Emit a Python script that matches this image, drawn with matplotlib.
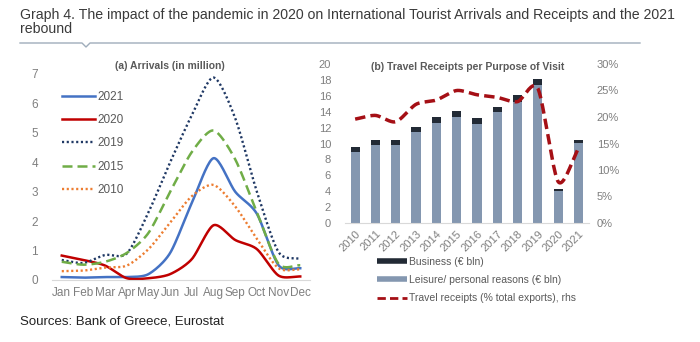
import numpy as np
import matplotlib
matplotlib.use("Agg")
import matplotlib.pyplot as plt
from matplotlib.lines import Line2D

plt.rcParams['font.family'] = ['Liberation Sans', 'DejaVu Sans']

# ---------------- data ----------------
months = ["Jan", "Feb", "Mar", "Apr", "May", "Jun", "Jul", "Aug", "Sep", "Oct", "Nov", "Dec"]
arr_2021 = [0.10, 0.08, 0.10, 0.10, 0.20, 0.92, 2.62, 4.14, 3.00, 2.25, 0.50, 0.40]
arr_2020 = [0.83, 0.68, 0.49, 0.06, 0.06, 0.20, 0.71, 1.86, 1.36, 1.05, 0.15, 0.12]
arr_2019 = [0.68, 0.58, 0.85, 0.90, 2.30, 4.00, 5.60, 6.88, 5.50, 3.00, 0.95, 0.72]
arr_2015 = [0.62, 0.52, 0.62, 0.92, 1.60, 3.00, 4.35, 5.08, 4.10, 2.30, 0.55, 0.50]
arr_2010 = [0.30, 0.32, 0.42, 0.49, 1.05, 1.95, 2.85, 3.23, 2.50, 1.40, 0.40, 0.36]

years = ["2010", "2011", "2012", "2013", "2014", "2015", "2016", "2017", "2018", "2019", "2020", "2021"]
leisure = [8.87, 9.75, 9.83, 11.46, 12.64, 13.35, 12.47, 13.90, 15.27, 17.36, 3.97, 10.04]
business = [0.67, 0.71, 0.55, 0.67, 0.71, 0.75, 0.71, 0.70, 0.80, 0.74, 0.30, 0.42]
receipts_pct = [19.6, 20.3, 19.1, 22.4, 23.2, 25.0, 24.2, 23.7, 22.9, 25.4, 7.8, 14.1]


def smooth(y, n=20, tension=0.8):
    """Cardinal spline through the given points (rendering only)."""
    y = np.asarray(y, float)
    x = np.arange(len(y), dtype=float)
    P = np.column_stack([x, y])
    P = np.vstack([P[0] - (P[1] - P[0]), P, P[-1] + (P[-1] - P[-2])])
    out = []
    t = np.linspace(0, 1, n, endpoint=False)[:, None]
    h00 = 2 * t ** 3 - 3 * t ** 2 + 1
    h10 = t ** 3 - 2 * t ** 2 + t
    h01 = -2 * t ** 3 + 3 * t ** 2
    h11 = t ** 3 - t ** 2
    for i in range(1, len(P) - 2):
        p0, p1, p2, p3 = P[i - 1], P[i], P[i + 1], P[i + 2]
        m1 = tension * 0.5 * (p2 - p0)
        m2 = tension * 0.5 * (p3 - p1)
        out.append(h00 * p1 + h10 * m1 + h01 * p2 + h11 * m2)
    out.append(P[-2][None, :])
    c = np.vstack(out)
    return c[:, 0], c[:, 1]


W, H = 700, 342
fig = plt.figure(figsize=(7, 3.42), dpi=100)

def fx(px):
    return px / W

def fy(py):
    return 1 - py / H

grey = "#595959"
tickgrey = "#7f7f7f"
tsize = 10.2

# title
fig.text(fx(20), fy(19), "Graph 4. The impact of the pandemic in 2020 on International Tourist Arrivals and Receipts and the 2021",
         ha="left", va="baseline", fontsize=tsize, color="#3a3a3a")
fig.text(fx(20), fy(33), "rebound",
         ha="left", va="baseline", fontsize=tsize, color="#3a3a3a")
# line with notch
lc = "#9fadbb"
fig.add_artist(Line2D([fx(20), fx(82), fx(86), fx(90), fx(640)],
                      [fy(43), fy(43), fy(47), fy(43), fy(43)], color=lc, lw=1.0))

fig.text(fx(20), fy(321), "Sources: Bank of Greece, Eurostat", ha="left", va="center",
         fontsize=9.5, color="#222222")

# ---------------- left panel ----------------
ax1 = fig.add_axes([fx(52), fy(280), fx(258), (280 - 74) / H])
x = np.arange(len(months))
dot = (0, (0.9, 1.1))
styles = [
    (arr_2021, "2021", "#4472C4", "-", 1.8),
    (arr_2020, "2020", "#C00000", "-", 1.8),
    (arr_2019, "2019", "#1F3864", dot, 1.7),
    (arr_2015, "2015", "#70AD47", (0, (4, 2)), 1.8),
    (arr_2010, "2010", "#ED7D31", dot, 1.7),
]
for vals, lab, col, ls, lw in styles:
    sx, sy = smooth(vals)
    ax1.plot(sx, sy, color=col, ls=ls, lw=lw, label=lab)
ax1.set_xlim(-0.45, 11.45)
ax1.set_ylim(0, 7)
ax1.set_xticks(x)
ax1.set_xticklabels(months)
ax1.set_yticks(range(0, 8))
for s in ["top", "right", "left"]:
    ax1.spines[s].set_visible(False)
ax1.spines["bottom"].set_color("#d9d9d9")
ax1.tick_params(axis="both", length=0, colors=tickgrey, labelsize=8.5)
ax1.tick_params(axis="y", pad=10)
ax1.tick_params(axis="x", pad=5)
leg1 = ax1.legend(loc="upper left", bbox_to_anchor=(fx(62), fy(91)), bbox_transform=fig.transFigure,
                  frameon=False, fontsize=8.5, handlelength=2.8, handletextpad=0.2,
                  labelspacing=0.95, borderaxespad=0, borderpad=0)
for t in leg1.get_texts():
    t.set_color(grey)
fig.text(fx(170), fy(66), "(a) Arrivals (in million)", ha="center", va="center",
         fontsize=7.5, fontweight="bold", color=grey)

# ---------------- right panel ----------------
ax2 = fig.add_axes([fx(345), fy(223), fx(243.6), (223 - 64) / H])
xb = np.arange(len(years))
ax2.bar(xb, leisure, width=0.45, color="#8497B0", label="Leisure/ personal reasons (\u20ac bln)", zorder=2)
ax2.bar(xb, business, width=0.45, bottom=leisure, color="#222A35", label="Business (\u20ac bln)", zorder=2)
ax2.set_xlim(-0.5, 11.5)
ax2.set_ylim(0, 20)
ax2.set_yticks(range(0, 21, 2))
ax2.set_xticks(xb)
ax2.set_xticklabels(years, rotation=45, ha="right", rotation_mode="anchor")
for s in ["top", "right", "left"]:
    ax2.spines[s].set_visible(False)
ax2.spines["bottom"].set_color("#d9d9d9")
ax2.tick_params(axis="both", length=0, colors=tickgrey, labelsize=8)
ax2.tick_params(axis="y", pad=10)
ax2.tick_params(axis="x", pad=4)

ax3 = ax2.twinx()
sx, sy = smooth(receipts_pct)
ax3.plot(sx, sy, color="#A50F15", lw=2.5, ls=(0, (3, 1.5)), zorder=3)
ax3.set_ylim(0, 30)
ax3.set_yticks(range(0, 31, 5))
ax3.set_yticklabels([f"{v}%" for v in range(0, 31, 5)])
for s in ["top", "right", "left", "bottom"]:
    ax3.spines[s].set_visible(False)
ax3.tick_params(axis="y", length=0, colors=tickgrey, labelsize=8, pad=6)

fig.text(fx(468), fy(67), "(b) Travel Receipts per Purpose of Visit", ha="center", va="center",
         fontsize=7.5, fontweight="bold", color=grey)

handles = [Line2D([], [], color="#222A35", lw=4, solid_capstyle="butt"),
           Line2D([], [], color="#8497B0", lw=4, solid_capstyle="butt"),
           Line2D([], [], color="#A50F15", lw=2, ls=(0, (3, 1.5)))]
labels = ["Business (\u20ac bln)", "Leisure/ personal reasons (\u20ac bln)",
          "Travel receipts (% total exports), rhs"]
leg2 = fig.legend(handles, labels, loc="upper left", bbox_to_anchor=(fx(377), fy(257)),
                  frameon=False, fontsize=7.5, handlelength=2.9, handletextpad=0.2,
                  labelspacing=0.78, borderaxespad=0, borderpad=0)
for t in leg2.get_texts():
    t.set_color(grey)

fig.savefig("out.png", dpi=100)
